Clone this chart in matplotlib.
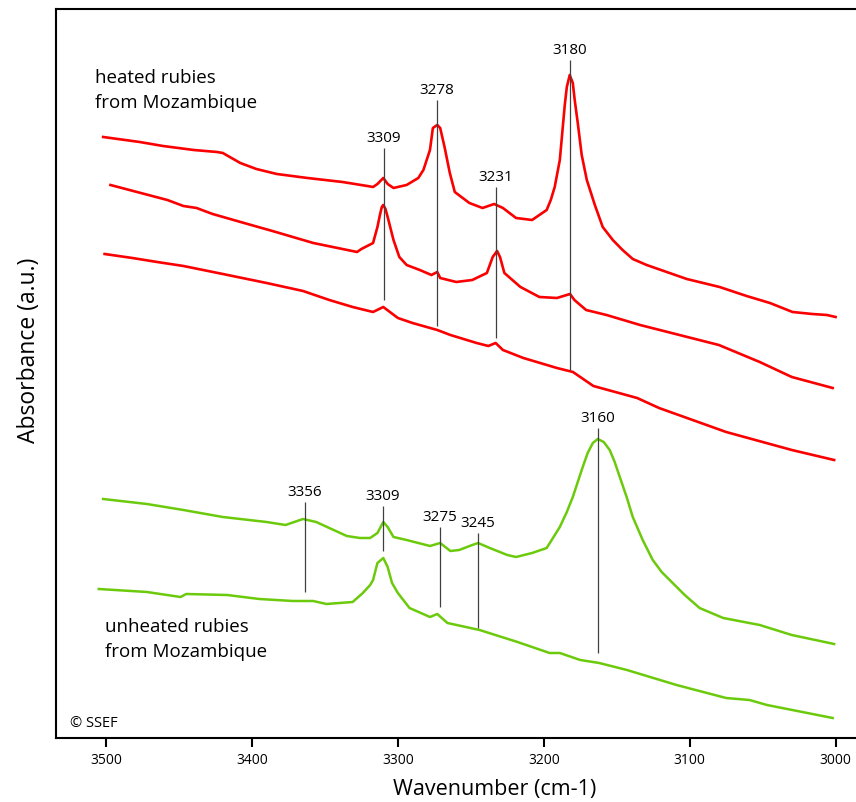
import numpy as np
import matplotlib.pyplot as plt

plt.rcParams['font.family'] = ['Open Sans', 'DejaVu Sans']

# heated rubies (three red spectra, top to bottom)
w_h1 = [3502, 3477, 3461, 3440, 3424, 3420, 3408, 3397, 3383, 3362, 3338, 3321, 3317, 3314,
        3310, 3307, 3303, 3294, 3286, 3282.5, 3278, 3276, 3273, 3271, 3268, 3264.4, 3261,
        3251, 3242, 3234, 3228, 3219, 3208, 3198, 3195.2, 3192.5, 3189, 3185.6, 3184.2,
        3182.2, 3180.1, 3178.8, 3176.7, 3174, 3170.5, 3165, 3159.6, 3152.7, 3146, 3139,
        3129.5, 3102, 3079.5, 3061, 3045, 3029.5, 3016, 3006, 3000]
a_h1 = [6.01, 5.96, 5.92, 5.88, 5.86, 5.85, 5.75, 5.69, 5.64, 5.60, 5.56, 5.52, 5.51, 5.54,
        5.60, 5.54, 5.50, 5.53, 5.60, 5.68, 5.88, 6.10, 6.13, 6.10, 5.91, 5.65, 5.46,
        5.35, 5.30, 5.34, 5.30, 5.20, 5.18, 5.28, 5.38, 5.51, 5.78, 6.33, 6.51,
        6.63, 6.55, 6.38, 6.15, 5.83, 5.58, 5.33, 5.11, 4.98, 4.88, 4.79,
        4.73, 4.59, 4.51, 4.42, 4.35, 4.26, 4.24, 4.23, 4.21]

w_h2 = [3497, 3458, 3447, 3438, 3427, 3403, 3386, 3358, 3328, 3325, 3317, 3314, 3312.3,
        3311, 3310, 3308.5, 3307, 3303, 3299, 3294, 3285, 3277, 3273, 3271, 3260, 3249,
        3239, 3235, 3232, 3230, 3227, 3216, 3203, 3191, 3182, 3179, 3171, 3157, 3134, 3107,
        3080, 3052, 3030, 3002]
a_h2 = [5.53, 5.38, 5.32, 5.30, 5.24, 5.14, 5.07, 4.95, 4.86, 4.89, 4.95, 5.11, 5.23,
        5.31, 5.33, 5.29, 5.21, 4.98, 4.81, 4.73, 4.68, 4.63, 4.66, 4.60, 4.56, 4.58,
        4.65, 4.81, 4.87, 4.81, 4.65, 4.51, 4.41, 4.40, 4.44, 4.38, 4.28, 4.23, 4.13, 4.03,
        3.93, 3.76, 3.61, 3.50]

w_h3 = [3501, 3482, 3465, 3447, 3420, 3390, 3365, 3347, 3331, 3317, 3310, 3300, 3290, 3273,
        3264, 3246, 3238, 3233, 3228, 3214, 3191, 3180, 3166, 3136, 3121, 3075, 3030, 3001]
a_h3 = [4.84, 4.80, 4.76, 4.72, 4.64, 4.55, 4.47, 4.38, 4.31, 4.26, 4.31, 4.20, 4.15, 4.08,
        4.03, 3.95, 3.92, 3.95, 3.88, 3.80, 3.70, 3.66, 3.52, 3.40, 3.30, 3.06, 2.88, 2.78]

# unheated rubies (two green spectra)
w_u1 = [3502, 3472, 3447, 3420, 3390, 3377, 3365, 3356, 3347, 3335, 3326, 3319, 3314, 3310,
        3307, 3303, 3294, 3278, 3271, 3264, 3258, 3249, 3245, 3237, 3225, 3219, 3208, 3198,
        3189, 3184.2, 3180.1, 3176.7, 3173.3, 3169.9, 3166.4, 3163, 3158.9, 3154.8, 3151.4,
        3147.9, 3143.2, 3139, 3132.2, 3125.3, 3119.2, 3113.7, 3103.4, 3093.2, 3077, 3052,
        3030, 3001]
a_u1 = [2.39, 2.34, 2.28, 2.21, 2.16, 2.13, 2.19, 2.16, 2.10, 2.02, 2.00, 2.00, 2.05, 2.16,
        2.11, 2.01, 1.98, 1.92, 1.95, 1.87, 1.88, 1.93, 1.95, 1.90, 1.83, 1.81, 1.85, 1.90,
        2.11, 2.26, 2.41, 2.56, 2.71, 2.85, 2.95, 2.99, 2.96, 2.88, 2.76,
        2.61, 2.41, 2.21, 1.98, 1.78, 1.66, 1.58, 1.43, 1.30, 1.20, 1.13,
        1.03, 0.94]

w_u2 = [3505, 3472, 3449, 3445, 3417, 3395, 3372, 3358, 3349, 3331, 3324, 3319, 3317, 3314,
        3310, 3307, 3304, 3300, 3292, 3278, 3273, 3266, 3244, 3218, 3196, 3189, 3175, 3162,
        3143, 3109, 3075, 3059, 3047, 3002]
a_u2 = [1.49, 1.46, 1.41, 1.44, 1.43, 1.39, 1.37, 1.37, 1.34, 1.36, 1.45, 1.53, 1.58, 1.75,
        1.80, 1.71, 1.55, 1.45, 1.30, 1.21, 1.24, 1.15, 1.08, 0.96, 0.85, 0.85, 0.78, 0.75,
        0.68, 0.53, 0.40, 0.38, 0.33, 0.20]

# peak markers: label, drawn position, bottom and top of the marker line
peak_labels = ['3309', '3278', '3231', '3180', '3160', '3356', '3309', '3275', '3245']
peak_pos = [3309.6, 3273.3, 3232.9, 3182.2, 3163.0, 3363.7, 3310.3, 3271.2, 3245.2]
peak_bot = [4.38, 4.12, 4.00, 3.68, 0.85, 1.46, 1.87, 1.31, 1.10]
peak_top = [5.90, 6.38, 5.51, 6.78, 3.10, 2.36, 2.32, 2.11, 2.05]

red = '#fa0000'
green = '#6cca0c'

fig = plt.figure(figsize=(8.56, 8.02), dpi=100)
ax = fig.add_axes([0.0651, 0.0798, 0.9349, 0.909])

for w, a in [(w_h1, a_h1), (w_h2, a_h2), (w_h3, a_h3)]:
    ax.plot(w, a, color=red, lw=1.9, solid_joinstyle='round')
for w, a in [(w_u1, a_u1), (w_u2, a_u2)]:
    ax.plot(w, a, color=green, lw=1.8, solid_joinstyle='round')

ax.vlines(peak_pos, peak_bot, peak_top, color='#404040', lw=0.9)
for lab, x, yt in zip(peak_labels, peak_pos, peak_top):
    ax.annotate(lab, (x, yt), xytext=(0, 4.5), textcoords='offset points',
                ha='center', va='baseline', fontsize=11)

ax.text(3507.5, 6.55, 'heated rubies', fontsize=13.5, va='baseline')
ax.text(3507.5, 6.30, 'from Mozambique', fontsize=13.5, va='baseline')
ax.text(3500.5, 1.06, 'unheated rubies', fontsize=13.5, va='baseline')
ax.text(3500.5, 0.81, 'from Mozambique', fontsize=13.5, va='baseline')
ax.text(3525, 0.11, '© SSEF', fontsize=10.5, va='baseline')

ax.set_xlim(3534.5, 2986)
ax.set_ylim(0, 7.29)
ax.set_xticks([3500, 3400, 3300, 3200, 3100, 3000])
ax.set_yticks([])
ax.tick_params(axis='x', direction='out', length=6.5, width=1.5, pad=4.5, labelsize=10)
for s in ['left', 'top', 'bottom']:
    ax.spines[s].set_linewidth(1.5)
ax.spines['right'].set_visible(False)

fig.text(494.5 / 856, 1 - 790 / 802, 'Wavenumber (cm-1)', ha='center', va='center', fontsize=15.5)
fig.text(29 / 856, 1 - 350 / 802, 'Absorbance (a.u.)', ha='center', va='center',
         rotation=90, fontsize=16.5)

fig.savefig('out.png', dpi=100)
